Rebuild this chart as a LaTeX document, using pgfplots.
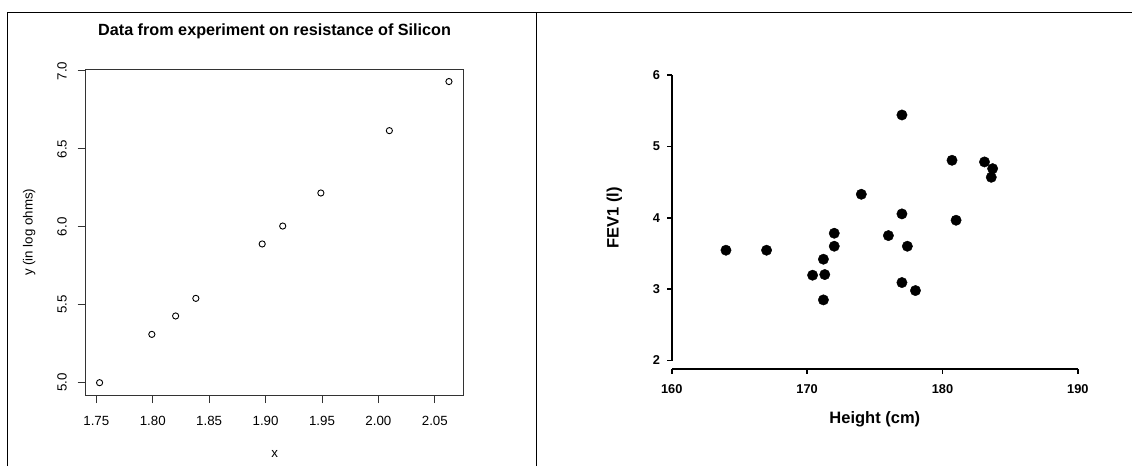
\documentclass[border=0pt]{standalone}
\usepackage{fontspec}
\setmainfont{Liberation Sans}
\usepackage{pgfplots}
\pgfplotsset{compat=1.18}
\begin{document}
\begin{tikzpicture}
\useasboundingbox (0pt,0pt) rectangle (1132pt,466pt);
\fill[white] (0pt,0pt) rectangle (1132pt,466pt);
\draw[line width=1pt] (7.3pt,0pt) -- (7.3pt,453.7pt) -- (1132pt,453.7pt);
\draw[line width=1pt] (536pt,0pt) -- (536pt,453.7pt);
% ---------------- left panel
\begin{axis}[
  at={(85.7pt,71pt)}, anchor=south west, scale only axis,
  width=377.8pt, height=325.3pt,
  xmin=1.7406, xmax=2.0754, ymin=4.921, ymax=7.008,
  axis line style={line width=0.9pt, black!80},
  tick style={line width=0.9pt, black!80},
  tick align=outside, major tick length=8pt,
  xtick pos=left, ytick pos=left,
  xtick={1.75,1.8,1.85,1.9,1.95,2.0,2.05},
  xticklabels={1.75,1.80,1.85,1.90,1.95,2.00,2.05},
  ytick={5,5.5,6,6.5,7},
  yticklabels={5.0,5.5,6.0,6.5,7.0},
  ticklabel style={font=\fontsize{13.3}{15}\selectfont},
  xticklabel style={anchor=base, inner sep=0pt, yshift=-22.3pt},
  yticklabel style={xshift=-11pt, rotate=90, anchor=base, inner sep=0pt},
  title={Data from experiment on resistance of Silicon},
  title style={at={(axis description cs:0.5,1.0861)}, anchor=base, inner sep=0pt, font=\bfseries\fontsize{16.2}{18}\selectfont},
  xlabel={x},
  xlabel style={at={(axis description cs:0.5,-0.1915)}, anchor=base, inner sep=0pt, font=\fontsize{13.3}{15}\selectfont},
  ylabel={y (in log ohms)},
  ylabel style={at={(axis description cs:-0.1408,0.5)}, rotate=0, anchor=base, inner sep=0pt, font=\fontsize{13.3}{15}\selectfont},
]
\addplot[only marks, mark=o, mark size=3.1pt, mark options={line width=0.9pt, black}] coordinates {
(1.7529,5.000) (1.7992,5.310) (1.8203,5.428) (1.8382,5.541) (1.8970,5.890)
(1.9152,6.005) (1.9490,6.217) (2.0097,6.617) (2.0625,6.932)
};
\end{axis}
% ---------------- right panel
\begin{axis}[
  at={(671.8pt,105.5pt)}, anchor=south west, scale only axis,
  width=406.1pt, height=285.5pt,
  xmin=160, xmax=190, ymin=2, ymax=6,
  axis x line*=bottom, axis y line*=left,
  axis x line shift=8.5pt,
  axis line style={line width=1.7pt, -},
  tick style={line width=1.7pt, black},
  tick align=outside, major tick length=4.5pt,
  xtick={160,170,180,190}, xticklabels={160,170,180,190},
  ytick={2,3,4,5,6}, yticklabels={2,3,4,5,6},
  ticklabel style={font=\bfseries\fontsize{12.8}{14}\selectfont},
  xticklabel style={anchor=base, inner sep=0pt, yshift=-19.8pt},
  yticklabel style={anchor=east, inner sep=0pt, xshift=-7pt},
  xlabel={Height (cm)},
  xlabel style={at={(axis description cs:0.5,-0.2224)}, anchor=base, inner sep=0pt, font=\bfseries\fontsize{16.5}{18}\selectfont},
  ylabel={FEV1 (l)},
  ylabel style={at={(axis description cs:-0.1312,0.5)}, rotate=0, anchor=base, inner sep=0pt, font=\bfseries\fontsize{16.5}{18}\selectfont},
  clip=false,
]
\addplot[only marks, mark=*, mark size=5.2pt, black] coordinates {
(164.0,3.545) (167.0,3.545) (170.4,3.195) (171.2,3.419) (171.3,3.204)
(171.2,2.849) (172.0,3.783) (172.0,3.601) (174.0,4.329) (176.0,3.750)
(177.0,5.440) (177.0,4.054) (177.4,3.601) (177.0,3.092) (178.0,2.980)
(180.7,4.805) (181.0,3.965) (183.1,4.782) (183.7,4.688) (183.6,4.567)
};
\end{axis}
\end{tikzpicture}
\end{document}
